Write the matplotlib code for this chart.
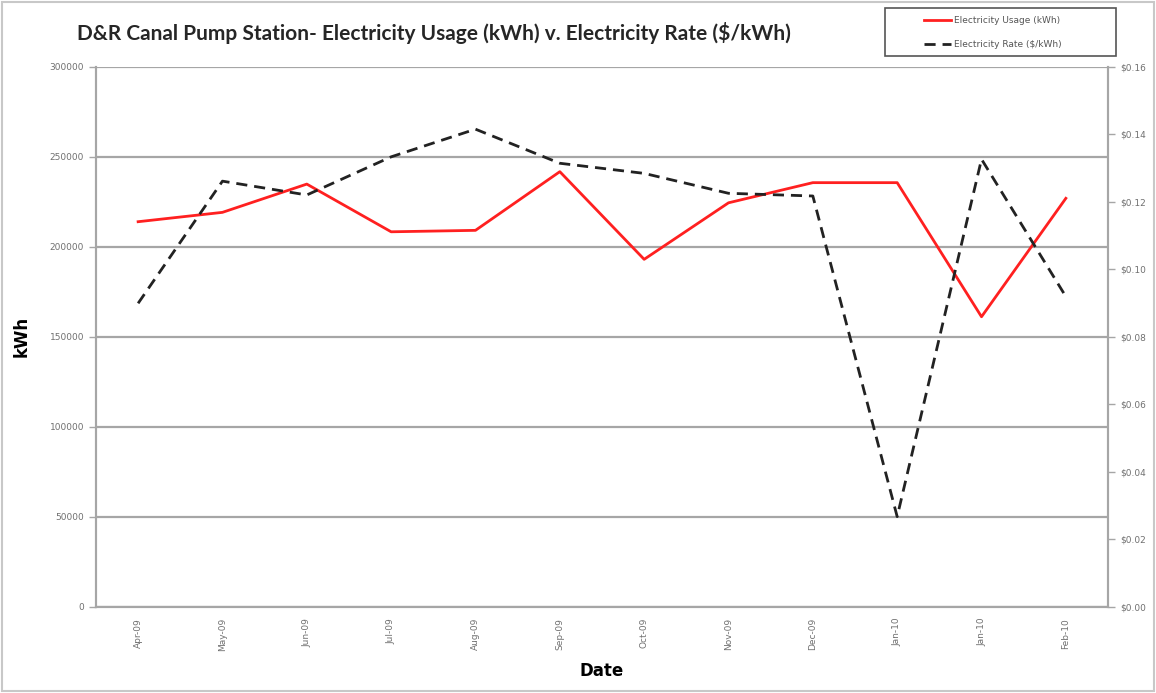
import matplotlib.pyplot as plt
from matplotlib.patches import Rectangle

months = ['Apr-09', 'May-09', 'Jun-09', 'Jul-09', 'Aug-09', 'Sep-09',
          'Oct-09', 'Nov-09', 'Dec-09', 'Jan-10', 'Jan-10', 'Feb-10']
usage = [213900, 219100, 234800, 208300, 209100, 241700,
         193000, 224400, 235600, 235600, 161100, 226900]
rate = [0.0899, 0.1261, 0.1220, 0.1333, 0.1415, 0.1314,
        0.1284, 0.1225, 0.1217, 0.0267, 0.1326, 0.0919]

grey = '#a6a6a6'
x = list(range(len(months)))

fig = plt.figure(figsize=(11.56, 6.93), dpi=100)
fig.patches.append(Rectangle((0.002, 0.003), 0.996, 0.994, transform=fig.transFigure,
                             fill=False, edgecolor='#c8c8c8', linewidth=1.5))
ax = fig.add_axes([0.083, 0.1245, 0.8755, 0.7792])
ax2 = ax.twinx()

l1, = ax.plot(x, usage, color='#ff2020', linewidth=2, label='Electricity Usage (kWh)')
l2, = ax2.plot(x, rate, color='#222222', linewidth=2, dashes=(4, 2.5),
               label='Electricity Rate ($/kWh)')

ax.set_xlim(-0.5, 11.5)
ax.set_ylim(0, 300000)
ax.set_yticks(range(0, 300001, 50000))
ax.grid(axis='y', color=grey, linewidth=1.6)
ax.set_axisbelow(True)
ax2.set_ylim(0, 0.16)
ax2.set_yticks([i * 0.02 for i in range(9)])
ax2.set_yticklabels(['$%.2f' % (i * 0.02) for i in range(9)])

ax.set_xticks(x)
ax.set_xticklabels(months, rotation=90)

for a in (ax, ax2):
    a.spines['top'].set_visible(False)
    for s in ('left', 'right', 'bottom'):
        a.spines[s].set_color(grey)
        a.spines[s].set_linewidth(1.5)
    a.tick_params(colors=grey, labelcolor='#707070', labelsize=6.5, length=5, width=1)
ax.tick_params(axis='x', length=0, pad=8)

ax.set_ylabel('kWh', fontsize=12, fontweight='bold', labelpad=14)
ax.set_xlabel('Date', fontsize=12, fontweight='bold', labelpad=8)

fig.text(0.067, 0.952, 'D&R Canal Pump Station- Electricity Usage (kWh) v. Electricity Rate ($/kWh)',
         fontsize=15, fontfamily='Lato', fontweight='bold', color='#262626', va='center')

# legend box drawn wide like the original, entries indented
fig.patches.append(Rectangle((0.766, 0.919), 0.199, 0.07, transform=fig.transFigure,
                             fill=False, edgecolor='#555555', linewidth=1.2))
leg = fig.legend(handles=[l1, l2], loc='center left', bbox_to_anchor=(0.799, 0.953),
                 fontsize=6.5, frameon=False, handlelength=3.0, handletextpad=0.4,
                 labelspacing=1.7, borderpad=0, borderaxespad=0)
for t in leg.get_texts():
    t.set_color('#555555')

fig.savefig('out.png', dpi=100)
